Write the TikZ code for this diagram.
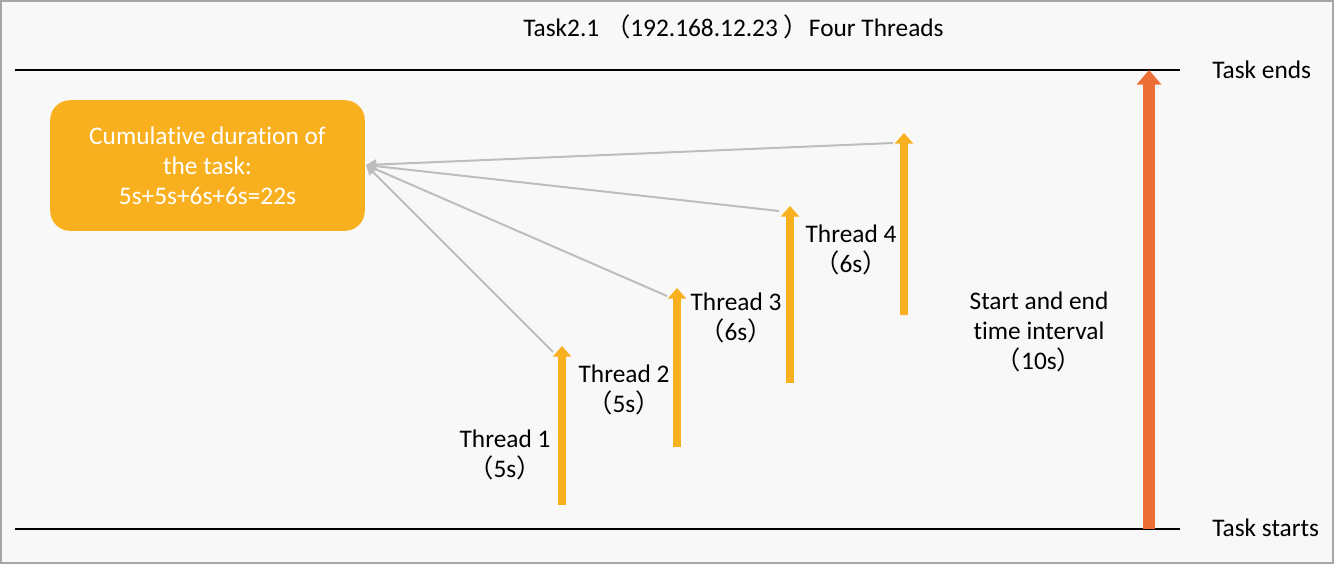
\documentclass[tikz,border=0pt]{standalone}
\usepackage{fontspec}
\setmainfont{Carlito}[Ligatures=NoCommon]
\newfontfamily\cjk{Noto Sans CJK SC}
\usetikzlibrary{arrows.meta}
\definecolor{thryel}{HTML}{F8B01E}
\definecolor{spanor}{HTML}{EE6F35}
\definecolor{linkgr}{HTML}{BDBDBD}
\definecolor{bggr}{HTML}{F8F8F8}
\newcommand{\fwl}{{\cjk （}}
\newcommand{\fwr}{{\cjk ）}}
\tikzset{
  thread/.style={draw=thryel, line width=6pt, -{Triangle[width=13.5pt,length=8pt]}},
  link/.style={draw=linkgr, line width=1.5pt, -{Triangle[width=7.5pt,length=7.5pt]}},
  lbl/.style={align=center, inner sep=0pt}
}
\begin{document}
\begin{tikzpicture}[x=0.75pt, y=-0.75pt, every node/.style={font=\fontsize{19pt}{22.5pt}\selectfont}]
    \useasboundingbox (0,0) rectangle (1334,564);
    \draw[fill=bggr, draw=gray!70, line width=1.5pt] (1,1) rectangle (1333,563);
    \node[lbl, anchor=west] (title) at (523,27) {Task2.1 \fwl192.168.12.23 \fwr Four Threads};
    % start and end lines
    \draw[line width=1.2pt] (15,70) -- (1180,70);
    \draw[line width=1.2pt] (15,529) -- (1180,529);
    \node[lbl, anchor=west] (ends) at (1212,70) {Task ends};
    \node[lbl, anchor=west] (starts) at (1212,528) {Task starts};
    \coordinate (s0) at (1149,529); \coordinate (e0) at (1149,70);
    \draw[draw=spanor, line width=9pt, -{Triangle[width=18pt,length=11pt]}] (s0) -- (e0);
    \node[lbl] (span) at (1039,332) {Start and end\\time interval\\\fwl10s\fwr};
    % summary box
    \node[fill=thryel, rounded corners=15pt, minimum width=236pt, minimum height=98pt,
      text=white, align=center] (sum) at (207.5,165.5)
      {Cumulative duration of\\the task:\\5s+5s+6s+6s=22s};
    \coordinate (tip) at (366,165);
    % threads
    \coordinate (s1) at (562,505); \coordinate (e1) at (562,346);
    \coordinate (s2) at (677,447); \coordinate (e2) at (677,288);
    \coordinate (s3) at (790,383); \coordinate (e3) at (790,206);
    \coordinate (s4) at (904,315); \coordinate (e4) at (904,133);
    \draw[thread] (s1) -- (e1);
    \draw[thread] (s2) -- (e2);
    \draw[thread] (s3) -- (e3);
    \draw[thread] (s4) -- (e4);
    \node[lbl] (t1) at (505,455) {Thread 1\\\fwl5s\fwr};
    \node[lbl] (t2) at (624,390) {Thread 2\\\fwl5s\fwr};
    \node[lbl] (t3) at (736,318) {Thread 3\\\fwl6s\fwr};
    \node[lbl] (t4) at (851,250) {Thread 4\\\fwl6s\fwr};
    % links to box
    \coordinate (k1) at (553,352); \coordinate (k2) at (667,296);
    \coordinate (k3) at (779,211); \coordinate (k4) at (893,143);
    \foreach \k in {k1,k2,k3,k4}
      \draw[link] (\k) -- (tip);
\end{tikzpicture}
\end{document}
